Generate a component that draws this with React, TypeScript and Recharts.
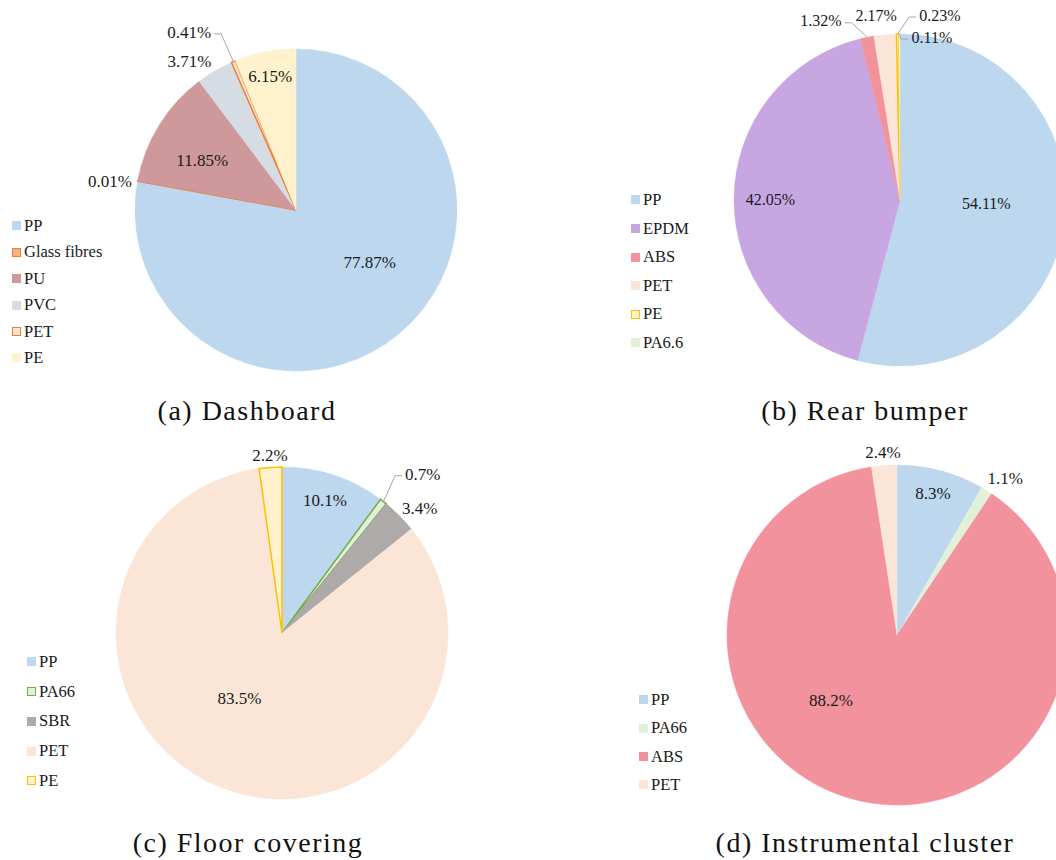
import React from "react";
import { PieChart, Pie, Cell, Legend } from "recharts";

// (a) Dashboard
const dashNames = ["PP", "Glass fibres", "PU", "PVC", "PET", "PE"];
const dashValues = [77.87, 0.01, 11.85, 3.71, 0.41, 6.15];

// (b) Rear bumper
const bumperNames = ["PP", "EPDM", "ABS", "PET", "PE", "PA6.6"];
const bumperValues = [54.11, 42.05, 1.32, 2.17, 0.23, 0.11];

// (c) Floor covering
const floorNames = ["PP", "PA66", "SBR", "PET", "PE"];
const floorValues = [10.1, 0.7, 3.4, 83.5, 2.2];

// (d) Instrumental cluster
const clusterNames = ["PP", "PA66", "ABS", "PET"];
const clusterValues = [8.3, 1.1, 88.2, 2.4];

const captions = [
  "(a) Dashboard",
  "(b) Rear bumper",
  "(c) Floor covering",
  "(d) Instrumental cluster",
];

const FONT = '"Liberation Serif", "Times New Roman", serif';
const LEADER = "#A6A6A6";

// excel-ish palette, fill / outline per material
const fillOf: Record<string, string> = {
  PP: "#BDD7EE",
  "Glass fibres": "#F4B183",
  PU: "#CF999B",
  PVC: "#D6DCE4",
  PET: "#FBE5D6",
  PE: "#FFF2CC",
  EPDM: "#C8A6E2",
  ABS: "#F2929C",
  "PA6.6": "#E2F0D9",
  PA66: "#E2F0D9",
  SBR: "#AEAAAA",
};

// [radius factor, angle shift (deg), leader line]
type LabelPos = [number, number, boolean?];

type PanelProps = {
  names: string[];
  values: number[];
  strokes: (string | null)[];
  labelPos: LabelPos[];
  decimals: number;
  labelSize: number;
  left: number;
  top: number;
  width: number;
  height: number;
  cx: number;
  cy: number;
  radius: number;
  legendX: number;
  legendY: number;
  legendGap: number;
};

const makeLabel = (p: PanelProps) => (props: any) => {
  const { cx, cy, midAngle, outerRadius, index } = props;
  const value = props.payload?.value ?? props.value;
  const [rf, da, leader] = p.labelPos[index];
  const RAD = Math.PI / 180;
  const a = (midAngle + da) * RAD;
  const tx = cx + outerRadius * rf * Math.cos(a);
  const ty = cy - outerRadius * rf * Math.sin(a);
  const text = `${Number(value).toFixed(p.decimals)}%`;

  let line = null;
  if (leader) {
    const m = midAngle * RAD;
    const px = cx + outerRadius * Math.cos(m);
    const py = cy - outerRadius * Math.sin(m);
    const hw = text.length * p.labelSize * 0.26;
    const side = tx < px ? 1 : -1;
    const ex = tx + side * (hw + 3);
    const ey = ty + 2;
    const bx = ex + side * 7;
    line = (
      <polyline
        points={`${px},${py} ${bx},${ey} ${ex},${ey}`}
        fill="none"
        stroke={LEADER}
        strokeWidth={1}
      />
    );
  }

  return (
    <g>
      {line}
      <text
        x={tx}
        y={ty}
        dy="0.35em"
        textAnchor="middle"
        fill="#1a1a1a"
        fontSize={p.labelSize}
        fontFamily={FONT}
      >
        {text}
      </text>
    </g>
  );
};

const PiePanel = (p: PanelProps) => {
  const data = p.names.map((n, i) => ({ name: n, value: p.values[i] }));

  const legendContent = () => (
    <div style={{ fontFamily: FONT, fontSize: 16.5, color: "#1a1a1a" }}>
      {p.names.map((n, i) => (
        <div
          key={n}
          style={{ height: p.legendGap, display: "flex", alignItems: "center" }}
        >
          <span
            style={{
              display: "inline-block",
              width: 9,
              height: 9,
              boxSizing: "border-box",
              background: fillOf[n],
              border: p.strokes[i] ? `1.5px solid ${p.strokes[i]}` : "none",
              marginRight: 3,
            }}
          />
          <span>{n}</span>
        </div>
      ))}
    </div>
  );

  return (
    <div style={{ position: "absolute", left: p.left, top: p.top }}>
      <PieChart
        width={p.width}
        height={p.height}
        margin={{ top: 0, right: 0, bottom: 0, left: 0 }}
      >
        <Pie
          data={data}
          dataKey="value"
          nameKey="name"
          cx={p.cx}
          cy={p.cy}
          outerRadius={p.radius}
          startAngle={90}
          endAngle={-270}
          isAnimationActive={false}
          labelLine={false}
          label={makeLabel(p)}
        >
          {p.names.map((n, i) => (
            <Cell
              key={n}
              fill={fillOf[n]}
              stroke={p.strokes[i] ?? fillOf[n]}
              strokeWidth={p.strokes[i] ? 1.5 : 0.5}
            />
          ))}
        </Pie>
        <Legend
          layout="vertical"
          align="center"
          verticalAlign="middle"
          wrapperStyle={{
            left: p.legendX,
            top: p.legendY - p.legendGap / 2,
            width: 140,
          }}
          content={legendContent}
        />
      </PieChart>
    </div>
  );
};

const captionStyle = (cx: number, top: number): React.CSSProperties => ({
  position: "absolute",
  left: cx - 200,
  top,
  width: 400,
  textAlign: "center",
  fontFamily: FONT,
  fontSize: 28,
  lineHeight: "28px",
  letterSpacing: 1.5,
  color: "#111",
  whiteSpace: "nowrap",
});

export default function App() {
  return (
    <div
      style={{
        position: "absolute",
        left: 0,
        top: 0,
        width: 1056,
        height: 860,
        overflow: "hidden",
        background: "#fff",
      }}
    >
      <PiePanel
        names={dashNames}
        values={dashValues}
        strokes={[null, "#ED7D31", null, null, "#ED7D31", null]}
        labelPos={[
          [0.56, 15],
          [1.17, 1.4],
          [0.66, 3.7],
          [1.14, 5.2],
          [1.29, 8.1, true],
          [0.85, -0.2],
        ]}
        decimals={2}
        labelSize={17}
        left={0}
        top={0}
        width={528}
        height={390}
        cx={296}
        cy={210}
        radius={161}
        legendX={12}
        legendY={226}
        legendGap={26.4}
      />
      <PiePanel
        names={bumperNames}
        values={bumperValues}
        strokes={[null, null, null, null, "#FFC000", null]}
        labelPos={[
          [0.52, 5.4],
          [0.78, 0.1],
          [1.18, 12.4, true],
          [1.12, 2.2],
          [1.14, -13, true],
          [1.0, -11.3, true],
        ]}
        decimals={2}
        labelSize={16}
        left={528}
        top={0}
        width={528}
        height={390}
        cx={372}
        cy={200}
        radius={166}
        legendX={103}
        legendY={200}
        legendGap={28.6}
      />
      <PiePanel
        names={floorNames}
        values={floorValues}
        strokes={[null, "#70AD47", null, null, "#FFC000"]}
        labelPos={[
          [0.84, 0.2],
          [1.28, -3.8, true],
          [1.12, -2.8],
          [0.47, -11.5],
          [1.075, -0.1],
        ]}
        decimals={1}
        labelSize={17}
        left={0}
        top={430}
        width={528}
        height={390}
        cx={282}
        cy={203}
        radius={166}
        legendX={27}
        legendY={232}
        legendGap={29.7}
      />
      <PiePanel
        names={clusterNames}
        values={clusterValues}
        strokes={[null, null, null, null]}
        labelPos={[
          [0.86, 0.7],
          [1.12, -2.8],
          [0.545, -32.8],
          [1.08, 0.1],
        ]}
        decimals={1}
        labelSize={17}
        left={528}
        top={430}
        width={528}
        height={390}
        cx={369}
        cy={205}
        radius={170}
        legendX={111}
        legendY={270}
        legendGap={28.3}
      />
      <div style={captionStyle(247, 397)}>{captions[0]}</div>
      <div style={captionStyle(865, 397)}>{captions[1]}</div>
      <div style={captionStyle(248, 829)}>{captions[2]}</div>
      <div style={captionStyle(865, 829)}>{captions[3]}</div>
    </div>
  );
}
